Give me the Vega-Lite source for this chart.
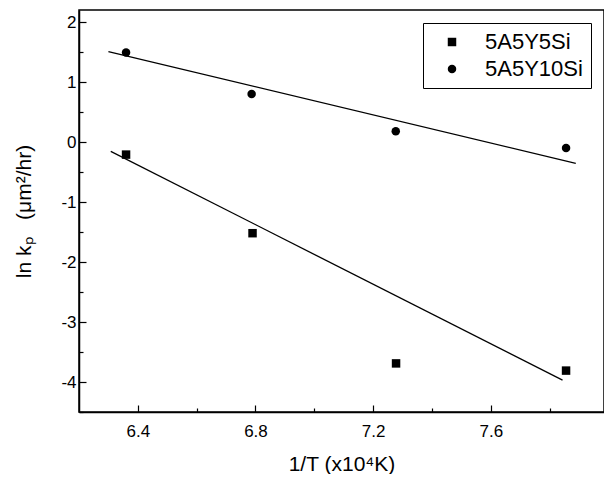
{
  "$schema": "https://vega.github.io/schema/vega-lite/v6.json",
  "width": 525,
  "height": 402,
  "padding": {"left": 13, "top": 10, "right": 0, "bottom": 0},
  "background": "white",
  "config": {
    "font": "Liberation Sans",
    "view": {"stroke": "black", "strokeWidth": 1.5},
    "axis": {
      "grid": false,
      "domainColor": "black",
      "domainWidth": 1.5,
      "tickColor": "black",
      "tickWidth": 1.2,
      "labelColor": "black",
      "titleColor": "black",
      "labelFont": "Liberation Sans",
      "titleFont": "Liberation Sans",
      "titleFontWeight": "normal",
      "labelFontSize": 17,
      "titleFontSize": 21,
      "labelFlush": false,
      "labelOverlap": false
    }
  },
  "datasets": {
    "pts": [
      {"series": "5A5Y5Si", "x": 6.36, "y": -0.21},
      {"series": "5A5Y5Si", "x": 6.79, "y": -1.52},
      {"series": "5A5Y5Si", "x": 7.278, "y": -3.69},
      {"series": "5A5Y5Si", "x": 7.856, "y": -3.81},
      {"series": "5A5Y10Si", "x": 6.36, "y": 1.49},
      {"series": "5A5Y10Si", "x": 6.787, "y": 0.8},
      {"series": "5A5Y10Si", "x": 7.277, "y": 0.18},
      {"series": "5A5Y10Si", "x": 7.856, "y": -0.1}
    ],
    "fits": [
      {"series": "fit 5A5Y5Si", "x": 6.308, "y": -0.155},
      {"series": "fit 5A5Y5Si", "x": 7.844, "y": -3.97},
      {"series": "fit 5A5Y10Si", "x": 6.3, "y": 1.507},
      {"series": "fit 5A5Y10Si", "x": 7.889, "y": -0.355}
    ]
  },
  "encoding": {
    "x": {
      "field": "x",
      "type": "quantitative",
      "scale": {"domain": [6.2, 7.985], "nice": false, "zero": false},
      "axis": {
        "title": "1/T (x10⁴K)",
        "values": [6.4, 6.6, 6.8, 7.0, 7.2, 7.4, 7.6, 7.8],
        "labelExpr": "abs(datum.value/0.4 - round(datum.value/0.4)) < 0.001 ? '' + datum.value : ''",
        "tickSize": {"condition": {"test": "abs(datum.value/0.4 - round(datum.value/0.4)) < 0.001", "value": -7}, "value": -4},
        "labelPadding": 18,
        "titlePadding": 11
      }
    },
    "y": {
      "field": "y",
      "type": "quantitative",
      "scale": {"domain": [-4.5, 2.2], "nice": false, "zero": false},
      "axis": {
        "title": "ln kₚ\u00a0\u00a0\u00a0(μm²/hr)",
        "values": [-4.5, -4, -3.5, -3, -2.5, -2, -1.5, -1, -0.5, 0, 0.5, 1, 1.5, 2],
        "labelExpr": "datum.value % 1 === 0 ? '' + datum.value : ''",
        "tickSize": {"condition": {"test": "datum.value % 1 === 0", "value": -7}, "value": -4},
        "labelPadding": 10,
        "titlePadding": 26
      }
    }
  },
  "layer": [
    {
      "data": {"name": "fits"},
      "mark": {"type": "line", "color": "black", "strokeWidth": 1.3},
      "encoding": {"detail": {"field": "series", "type": "nominal"}}
    },
    {
      "data": {"name": "pts"},
      "mark": {"type": "point", "filled": true, "color": "black", "size": 72, "opacity": 1},
      "encoding": {
        "shape": {
          "field": "series",
          "type": "nominal",
          "scale": {"domain": ["5A5Y5Si", "5A5Y10Si"], "range": ["square", "circle"]},
          "legend": {
            "orient": "none",
            "legendX": 344,
            "legendY": 13,
            "title": null,
            "strokeColor": "black",
            "fillColor": "white",
            "padding": 8,
            "labelFontSize": 22,
            "labelFont": "Liberation Sans",
            "labelColor": "black",
            "symbolOffset": 10,
            "labelOffset": 22,
            "rowPadding": 5,
            "symbolSize": 72,
            "symbolFillColor": "black",
            "symbolStrokeColor": "black"
          }
        }
      }
    }
  ]
}
